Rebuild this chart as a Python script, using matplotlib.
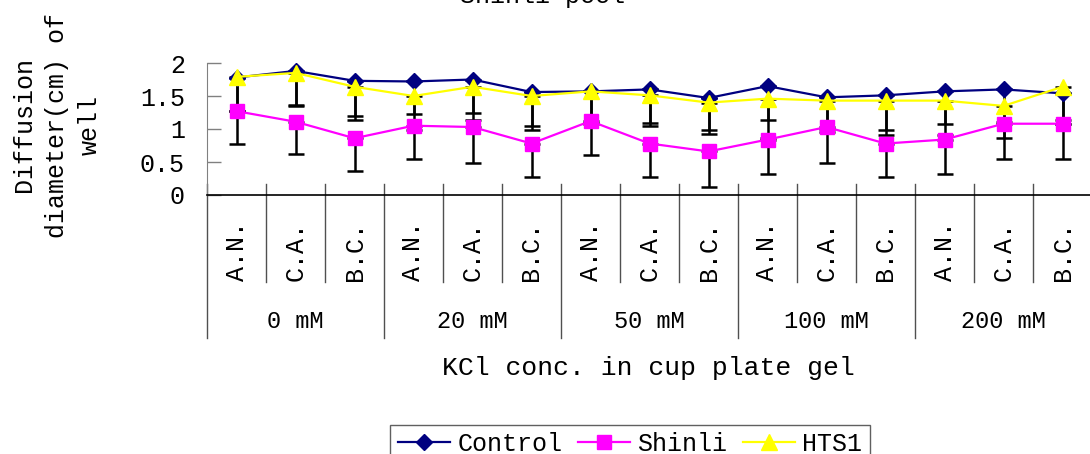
import matplotlib.pyplot as plt
import numpy as np
from matplotlib.transforms import blended_transform_factory

plt.rcParams['font.family'] = ['Liberation Mono', 'DejaVu Sans']

groups = ["0 mM", "20 mM", "50 mM", "100 mM", "200 mM"]
subcats = ["A.N.", "C.A.", "B.C."]

control = [1.78, 1.88, 1.73, 1.72, 1.75, 1.56, 1.57, 1.60, 1.47, 1.65, 1.48, 1.51, 1.57, 1.60, 1.54]
shinli = [1.27, 1.11, 0.86, 1.05, 1.03, 0.78, 1.12, 0.78, 0.66, 0.84, 1.03, 0.78, 0.84, 1.08, 1.08]
hts1 = [1.79, 1.85, 1.64, 1.50, 1.64, 1.50, 1.57, 1.51, 1.40, 1.46, 1.43, 1.43, 1.43, 1.35, 1.64]

# minus-only error bars (read from the cap positions)
control_err = [0.50, 0.52, 0.54, 0.50, 0.50, 0.52, 0.48, 0.51, 0.49, 0.52, 0.53, 0.53, 0.50, 0.50, 0.41]
shinli_err = [0.50, 0.49, 0.49, 0.50, 0.54, 0.50, 0.51, 0.50, 0.54, 0.52, 0.54, 0.50, 0.52, 0.53, 0.53]
hts1_err = [0.52, 0.50, 0.51, 0.52, 0.51, 0.52, 0.50, 0.47, 0.48, 0.60, 0.43, 0.52, 0.52, 0.49, 0.57]

W, H = 1090, 454
fig = plt.figure(figsize=(W / 100, H / 100), dpi=100)
ax = fig.add_axes([207 / W, 1 - 195 / H, 885 / W, 132 / H])

n = len(control)
x = np.arange(n)
zero = np.zeros(n)

for vals, err in [(control, control_err), (shinli, shinli_err), (hts1, hts1_err)]:
    ax.errorbar(x, vals, yerr=[err, zero], fmt='none', ecolor='black',
                elinewidth=1.8, capsize=5.5, capthick=1.8, zorder=1)

ax.plot(x, control, color='#000080', marker='D', ms=8, lw=1.6, label='Control', zorder=3)
ax.plot(x, shinli, color='#FF00FF', marker='s', ms=9.5, lw=1.6, label='Shinli', zorder=3)
ax.plot(x, hts1, color='#FFFF00', marker='^', ms=11, lw=1.6, label='HTS1', zorder=4)

ax.set_xlim(-0.5, n - 0.5)
ax.set_ylim(0, 2)
ax.set_yticks([0, 0.5, 1, 1.5, 2])
ax.set_yticklabels(['0', '0.5', '1', '1.5', '2'])
ax.set_xticks([])
ax.tick_params(axis='y', direction='in', length=10, width=1, color='#808080',
               pad=16, labelsize=18)
ax.spines['top'].set_visible(False)
ax.spines['right'].set_visible(False)
ax.spines['left'].set_color('#808080')
ax.spines['bottom'].set_color('black')
ax.spines['bottom'].set_linewidth(1.2)

# category dividers and labels below the axis
trans = blended_transform_factory(ax.transData, fig.transFigure)
for k, b in enumerate(np.arange(n + 1) - 0.5):
    y_end = 338 if k % 3 == 0 else 282
    ax.plot([b, b], [1 - 184 / H, 1 - y_end / H], transform=trans, clip_on=False,
            color='#505050', lw=1)

for i in range(n):
    ax.text(i, 1 - 281 / H, subcats[i % 3], rotation=90, ha='center', va='bottom',
            transform=trans, fontsize=18)

for g, name in enumerate(groups):
    ax.text(3 * g + 1, 1 - 321 / H, name, ha='center', va='center',
            transform=trans, fontsize=17)

fig.text(648 / W, 1 - 368 / H, 'KCl conc. in cup plate gel', ha='center',
         va='center', fontsize=19)
fig.text(57 / W, 1 - 125 / H, 'Diffusion\ndiameter(cm) of\nwell', rotation=90,
         ha='center', va='center', multialignment='center', fontsize=18,
         linespacing=1.45)
fig.text(0.498, 1 - 3 / H, 'Shinli peel', ha='center', va='baseline', fontsize=18)

leg = fig.legend(loc='upper center', bbox_to_anchor=(630 / W, 1 - 412 / H), ncol=3,
                 fontsize=18, frameon=True, fancybox=False, edgecolor='#606060',
                 handlelength=2.1, handletextpad=0.3, columnspacing=0.6,
                 borderpad=0.3, numpoints=1, framealpha=1)
leg.get_frame().set_linewidth(1)

fig.savefig('out.png', dpi=100)
